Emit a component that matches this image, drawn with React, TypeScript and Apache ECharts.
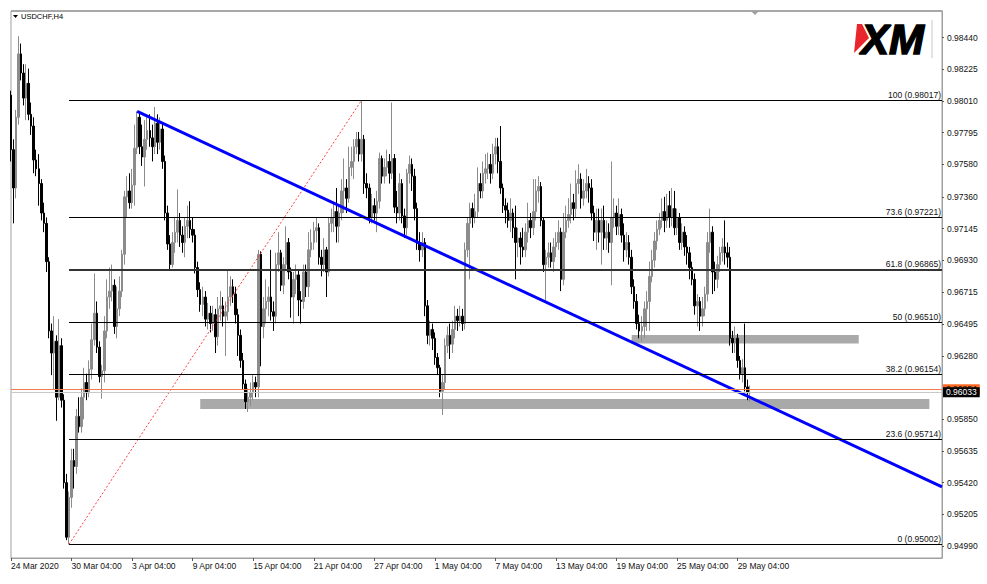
import React, { useEffect, useRef } from "react";
import * as echarts from "echarts";

// ---- candle values (USDCHF, H4) ----
const opens = [
  .9805,.9768,.9742,.9790,.9833,.9820,.9803,.9813,.9792,.9784,
  .9761,.9755,.9745,.9725,.9718,.9692,.9645,.9630,.9638,.9600,
  .9635,.9598,.9542,.9505,.9532,.9557,.9553,.9587,.9580,.9600,
  .9610,.9603,.9619,.9639,.9657,.9634,.9614,.9618,.9645,.9668,
  .9672,.9676,.9648,.9660,.9672,.9697,.9736,.9740,.9732,.9744,
  .9769,.9790,.9770,.9763,.9775,.9781,.9776,.9770,.9786,.9773,
  .9782,.9760,.9725,.9704,.9690,.9705,.9712,.9720,.9710,.9705,
  .9716,.9720,.9714,.9710,.9688,.9673,.9663,.9668,.9653,.9657,
  .9650,.9656,.9641,.9660,.9662,.9655,.9658,.9668,.9675,.9670,
  .9656,.9642,.9625,.9609,.9597,.9600,.9603,.9610,.9607,.9697,
  .9648,.9660,.9665,.9668,.9658,.9655,.9690,.9698,.9676,.9690,
  .9705,.9685,.9668,.9680,.9683,.9666,.9665,.9685,.9675,.9700,
  .9705,.9713,.9715,.9695,.9690,.9700,.9685,.9718,.9722,.9726,
  .9716,.9725,.9740,.9742,.9735,.9756,.9760,.9770,.9775,.9765,
  .9775,.9745,.9742,.9722,.9730,.9725,.9733,.9762,.9750,.9756,
  .9760,.9752,.9762,.9729,.9725,.9745,.9723,.9715,.9752,.9758,
  .9750,.9728,.9705,.9700,.9705,.9662,.9642,.9646,.9640,.9627,
  .9620,.9604,.9610,.9635,.9642,.9636,.9646,.9655,.9652,.9655,
  .9650,.9700,.9718,.9728,.9722,.9726,.9745,.9740,.9752,.9755,
  .9758,.9752,.9765,.9770,.9760,.9742,.9730,.9727,.9720,.9725,
  .9715,.9705,.9708,.9702,.9700,.9712,.9720,.9715,.9726,.9740,
  .9743,.9720,.9690,.9695,.9698,.9692,.9702,.9705,.9712,.9680,
  .9712,.9720,.9724,.9732,.9728,.9745,.9748,.9735,.9740,.9745,
  .9742,.9725,.9712,.9720,.9712,.9720,.9708,.9712,.9705,.9722,
  .9725,.9716,.9724,.9710,.9700,.9705,.9695,.9675,.9665,.9650,
  .9645,.9648,.9660,.9665,.9682,.9693,.9706,.9714,.9720,.9726,
  .9720,.9730,.9722,.9728,.9715,.9722,.9705,.9712,.9702,.9698,
  .9688,.9680,.9662,.9665,.9655,.9660,.9670,.9705,.9712,.9685,
  .9680,.9690,.9698,.9702,.9698,.9695,.9640,.9637,.9640,.9625,
  .9616,.9620,.9607,.9603,
];
const closes = [
  .9768,.9742,.9790,.9833,.9820,.9803,.9813,.9792,.9784,.9761,
  .9755,.9745,.9725,.9718,.9692,.9645,.9630,.9638,.9600,.9635,
  .9598,.9542,.9505,.9532,.9557,.9553,.9587,.9580,.9600,.9610,
  .9603,.9619,.9639,.9657,.9634,.9614,.9618,.9645,.9668,.9672,
  .9676,.9648,.9660,.9672,.9697,.9736,.9740,.9732,.9744,.9769,
  .9790,.9770,.9763,.9775,.9781,.9776,.9770,.9786,.9773,.9782,
  .9760,.9725,.9704,.9690,.9705,.9712,.9720,.9710,.9705,.9716,
  .9720,.9714,.9710,.9688,.9673,.9663,.9668,.9653,.9657,.9650,
  .9656,.9641,.9660,.9662,.9655,.9658,.9668,.9675,.9670,.9656,
  .9642,.9625,.9609,.9597,.9600,.9603,.9610,.9607,.9697,.9648,
  .9660,.9665,.9668,.9658,.9655,.9690,.9698,.9676,.9690,.9705,
  .9685,.9668,.9680,.9683,.9666,.9665,.9685,.9675,.9700,.9705,
  .9713,.9715,.9695,.9690,.9700,.9685,.9718,.9722,.9726,.9716,
  .9725,.9740,.9742,.9735,.9756,.9760,.9770,.9775,.9765,.9775,
  .9745,.9742,.9722,.9730,.9725,.9733,.9762,.9750,.9756,.9760,
  .9752,.9762,.9729,.9725,.9745,.9723,.9715,.9752,.9758,.9750,
  .9728,.9705,.9700,.9705,.9662,.9642,.9646,.9640,.9627,.9620,
  .9604,.9610,.9635,.9642,.9636,.9646,.9655,.9652,.9655,.9650,
  .9700,.9718,.9728,.9722,.9726,.9745,.9740,.9752,.9755,.9758,
  .9752,.9765,.9770,.9760,.9742,.9730,.9727,.9720,.9725,.9715,
  .9705,.9708,.9702,.9700,.9712,.9720,.9715,.9726,.9740,.9743,
  .9720,.9690,.9695,.9698,.9692,.9702,.9705,.9712,.9680,.9712,
  .9720,.9724,.9732,.9728,.9745,.9748,.9735,.9740,.9745,.9742,
  .9725,.9712,.9720,.9712,.9720,.9708,.9712,.9705,.9722,.9725,
  .9716,.9724,.9710,.9700,.9705,.9695,.9675,.9665,.9650,.9645,
  .9648,.9660,.9665,.9682,.9693,.9706,.9714,.9720,.9726,.9720,
  .9730,.9722,.9728,.9715,.9722,.9705,.9712,.9702,.9698,.9688,
  .9680,.9662,.9665,.9655,.9660,.9670,.9705,.9712,.9685,.9680,
  .9690,.9698,.9702,.9698,.9695,.9640,.9637,.9640,.9625,.9616,
  .9620,.9607,.9603,.96033,
];
const lows = [
  .9760,.9718,.9735,.9785,.9815,.9798,.9788,.9788,.9778,.9752,
  .9750,.9730,.9720,.9712,.9685,.9640,.9615,.9605,.9584,.9598,
  .9593,.9538,.9503,.95002,.9525,.9538,.9548,.9576,.9576,.9585,
  .9598,.9600,.9612,.9635,.9630,.9610,.9599,.9610,.9640,.9660,
  .9665,.9643,.9640,.9655,.9668,.9690,.9722,.9728,.9728,.9730,
  .9765,.9765,.9757,.9743,.9768,.9770,.9760,.9765,.9765,.9768,
  .9755,.9720,.9700,.9686,.9688,.9698,.9705,.9702,.9698,.9695,
  .9708,.9708,.9705,.9684,.9668,.9658,.9655,.9648,.9646,.9644,
  .9645,.9630,.9635,.9652,.9648,.9628,.9652,.9662,.9664,.9650,
  .9628,.9620,.9605,.9592,.9590,.9594,.9598,.9600,.9600,.9621,
  .9640,.9650,.9655,.9652,.9645,.9650,.9685,.9672,.9670,.9686,
  .9680,.9654,.9650,.9670,.9655,.9650,.9660,.9668,.9668,.9695,
  .9700,.9705,.9690,.9682,.9685,.9668,.9682,.9712,.9712,.9705,
  .9705,.9720,.9725,.9725,.9732,.9750,.9748,.9765,.9760,.9760,
  .9738,.9735,.9718,.9718,.9720,.9712,.9728,.9745,.9745,.9750,
  .9745,.9748,.9725,.9718,.9720,.9718,.9708,.9710,.9745,.9740,
  .9720,.9700,.9692,.9695,.9655,.9636,.9635,.9632,.9622,.9615,
  .9600,.9588,.9605,.9630,.9626,.9630,.9640,.9645,.9648,.9645,
  .9646,.9695,.9680,.9715,.9718,.9722,.9735,.9735,.9745,.9748,
  .9745,.9748,.9758,.9752,.9738,.9725,.9718,.9715,.9712,.9708,
  .9680,.9695,.9690,.9695,.9695,.9705,.9708,.9710,.9720,.9732,
  .9716,.9685,.9665,.9688,.9688,.9685,.9695,.9700,.9672,.9676,
  .9708,.9715,.9718,.9720,.9722,.9738,.9728,.9730,.9735,.9732,
  .9720,.9706,.9700,.9705,.9690,.9700,.9700,.9698,.9676,.9715,
  .9710,.9710,.9705,.9692,.9695,.9690,.9670,.9660,.9646,.9640,
  .9638,.9640,.9645,.9645,.9678,.9688,.9700,.9710,.9715,.9712,
  .9715,.9715,.9716,.9710,.9710,.9700,.9700,.9696,.9690,.9680,
  .9676,.9656,.9648,.9645,.9648,.9655,.9665,.9698,.9670,.9672,
  .9674,.9685,.9692,.9690,.9688,.9635,.9630,.9630,.9620,.9612,
  .9610,.9604,.9598,.9597,
];
const highs = [
  .9808,.9775,.9795,.9845,.9840,.9826,.9826,.9823,.9800,.9790,
  .9768,.9765,.9748,.9732,.9722,.9695,.9650,.9655,.9642,.9653,
  .9640,.9602,.9548,.9536,.9565,.9565,.9592,.9600,.9606,.9620,
  .9616,.9625,.9650,.9684,.9665,.9638,.9622,.9655,.9680,.9688,
  .9690,.9680,.9675,.9682,.9700,.9740,.9750,.9752,.9755,.9785,
  .9794,.9793,.9785,.9788,.9790,.9792,.9785,.9797,.9792,.9790,
  .9786,.9764,.9730,.9710,.9712,.9722,.9741,.9725,.9716,.9722,
  .9730,.9733,.9722,.9714,.9692,.9678,.9675,.9672,.9664,.9662,
  .9662,.9660,.9668,.9672,.9668,.9665,.9686,.9682,.9680,.9675,
  .9660,.9646,.9630,.9612,.9606,.9610,.9615,.9614,.9700,.9699,
  .9668,.9680,.9675,.9700,.9665,.9698,.9712,.9700,.9695,.9716,
  .9708,.9688,.9685,.9690,.9686,.9672,.9690,.9690,.9712,.9714,
  .9719,.9722,.9718,.9700,.9708,.9702,.9722,.9728,.9733,.9742,
  .9730,.9748,.9762,.9748,.9770,.9770,.9775,.9780,.9780,.98017,
  .9778,.9752,.9745,.9738,.9735,.9740,.9766,.9764,.9762,.9768,
  .9765,.9800,.9765,.9740,.9752,.9748,.9728,.9755,.9764,.9762,
  .9755,.9732,.9712,.9712,.9708,.9666,.9652,.9650,.9644,.9630,
  .9622,.9615,.9640,.9648,.9650,.9652,.9662,.9660,.9662,.9660,
  .9705,.9722,.9732,.9732,.9738,.9756,.9752,.9760,.9765,.9766,
  .9765,.9772,.9776,.9776,.9784,.9745,.9735,.9732,.9735,.9728,
  .9730,.9715,.9712,.9715,.9718,.9732,.9725,.9748,.9748,.9750,
  .9746,.9722,.9700,.9705,.9705,.9708,.9712,.9720,.9715,.9725,
  .9730,.9735,.9745,.9738,.9754,.9758,.9752,.9748,.9755,.9750,
  .9748,.9730,.9728,.9728,.9728,.9730,.9720,.9718,.9760,.9735,
  .9730,.9735,.9728,.9718,.9712,.9710,.9700,.9680,.9670,.9656,
  .9655,.9665,.9672,.9692,.9700,.9712,.9720,.9725,.9735,.9736,
  .9738,.9740,.9742,.9740,.9728,.9725,.9718,.9716,.9710,.9702,
  .9692,.9684,.9670,.9668,.9668,.9675,.9712,.9728,.9716,.9692,
  .9696,.9702,.9708,.9720,.9705,.9702,.9645,.9648,.9643,.9628,
  .9626,.9650,.9612,.9608,
];

// ---- axis ticks ----
const yTicks = [0.9499, 0.95205, 0.9542, 0.95635, 0.9585, 0.9628, 0.96495, 0.96715,
  0.9693, 0.97145, 0.9736, 0.9758, 0.97795, 0.9801, 0.98225, 0.9844];
const xTickLabels = ["24 Mar 2020", "30 Mar 04:00", "3 Apr 04:00", "9 Apr 04:00", "15 Apr 04:00",
  "21 Apr 04:00", "27 Apr 04:00", "1 May 04:00", "7 May 04:00", "13 May 04:00", "19 May 04:00",
  "25 May 04:00", "29 May 04:00"];
const BARS_PER_TICK = 24;
const TOTAL_SLOTS = 370; // visible bar slots incl. empty space on the right

// ---- objects on the chart ----
const fibRatios = ["100", "73.6", "61.8", "50", "38.2", "23.6", "0"];
const fibPrices = [0.98017, 0.97221, 0.96865, 0.9651, 0.96154, 0.95714, 0.95002];
const fibFromIndex = 23;
const fibBase = [{ index: 23, price: 0.95002 }, { index: 139, price: 0.98017 }];
const trendLine = [{ index: 50, price: 0.9794 }, { index: 369, price: 0.95391 }];
const zones = [
  { from: 75, to: 364, top: 0.95988, bottom: 0.9592 },
  { from: 246, to: 336, top: 0.96422, bottom: 0.96365 },
];
const askPrice = 0.96054;
const bidPrice = 0.96033;

const FONT = "'Liberation Sans', Arial, sans-serif";

function buildCategories(n: number): string[] {
  const months = ["Jan", "Feb", "Mar", "Apr", "May", "Jun", "Jul", "Aug"];
  const out: string[] = [];
  let t = Date.UTC(2020, 2, 24);
  let first = true;
  while (out.length < n) {
    const d = new Date(t);
    const wd = d.getUTCDay();
    if (wd !== 0 && wd !== 6) {
      for (let h = 0; h < 24 && out.length < n; h += 4) {
        if (first && h < 4) continue;
        out.push(`${d.getUTCDate()} ${months[d.getUTCMonth()]} ${String(h).padStart(2, "0")}:00`);
      }
      first = false;
    }
    t += 86400000;
  }
  return out;
}

function sparseLine(points: { index: number; price: number }[]) {
  const arr: (number | null)[] = new Array(TOTAL_SLOTS).fill(null);
  points.forEach((p) => (arr[p.index] = p.price));
  return arr;
}

function priceLine(price: number, lineColor: string, boxColor: string, textColor: string) {
  return [
    {
      coord: [0, price],
      lineStyle: { color: lineColor, width: 1, type: "solid" },
      label: {
        show: true, position: "end", formatter: price.toFixed(5), distance: 1,
        backgroundColor: boxColor, color: textColor, padding: [1, 3, 0, 3], fontSize: 8.5, fontFamily: FONT,
      },
    },
    { coord: [TOTAL_SLOTS - 1, price] },
  ];
}

export default function App() {
  const ref = useRef<HTMLDivElement>(null);
  useEffect(() => {
    if (!ref.current) return;
    const chart = echarts.init(ref.current, undefined, { renderer: "svg" });
    const categories = buildCategories(TOTAL_SLOTS);
    const candles = opens.map((o, i) => [o, closes[i], lows[i], highs[i]]);
    const lastTick = (xTickLabels.length - 1) * BARS_PER_TICK;
    const showTick = (i: number) => i % BARS_PER_TICK === 0 && i <= lastTick;

    const option: any = {
      animation: false,
      backgroundColor: "#ffffff",
      textStyle: { fontFamily: FONT },
      title: {
        text: "USDCHF,H4",
        left: 21,
        top: 12,
        padding: 0,
        textStyle: { fontSize: 7.5, fontWeight: "normal", color: "#000", fontFamily: FONT },
      },
      grid: {
        left: 11, right: 45, top: 11, bottom: 26,
        show: true, borderColor: "#a0a0a0", borderWidth: 1,
      },
      xAxis: {
        type: "category",
        data: categories,
        boundaryGap: false,
        axisLine: { show: true, lineStyle: { color: "#a0a0a0", width: 1 } },
        axisTick: { show: true, interval: showTick, length: 3, lineStyle: { color: "#555" } },
        axisLabel: {
          interval: showTick,
          formatter: (_v: string, i: number) => xTickLabels[i / BARS_PER_TICK] ?? "",
          align: "left",
          fontSize: 8.5,
          color: "#111",
          margin: 3,
          fontFamily: FONT,
        },
        splitLine: { show: false },
      },
      yAxis: {
        type: "value",
        position: "right",
        min: 0.94909,
        max: 0.98621,
        axisLine: { show: true, lineStyle: { color: "#a0a0a0", width: 1 } },
        axisTick: { show: true, customValues: yTicks, length: 2, lineStyle: { color: "#555" } },
        axisLabel: {
          customValues: yTicks,
          formatter: (v: number) => v.toFixed(5),
          fontSize: 8.5,
          color: "#111",
          margin: 5,
          fontFamily: FONT,
        },
        splitLine: { show: false },
      },
      graphic: [
        { type: "line", shape: { x1: 11, y1: 11, x2: 942, y2: 11 }, style: { stroke: "#a8a8a8", lineWidth: 2 } },
        { type: "polygon", shape: { points: [[13, 15], [18, 15], [15.5, 18]] }, style: { fill: "#000" } },
        { type: "polygon", shape: { points: [[751, 11], [759, 11], [755, 15]] }, style: { fill: "#a0a0a0" } },
        { type: "polygon", shape: { points: [[857, 24], [862, 24], [869, 38], [854, 53]] }, style: { fill: "#e8262b" } },
        {
          type: "text", x: 861, y: 39,
          style: {
            text: "XM", fill: "#000", stroke: "#000", lineWidth: 1.5, fontSize: 42, fontWeight: "bold", fontStyle: "italic",
            fontFamily: FONT, verticalAlign: "middle", align: "left",
          },
        },
        { type: "line", shape: { x1: 932, y1: 20, x2: 932, y2: 58 }, style: { stroke: "#c8c8c8", lineWidth: 1 } },
      ],
      series: [
        {
          name: "zones", type: "line", data: [], z: 1, silent: true,
          markArea: {
            silent: true,
            itemStyle: { color: "#a9a9a9" },
            data: zones.map((zn) => [{ coord: [zn.from, zn.top] }, { coord: [zn.to, zn.bottom] }]),
          },
        },
        {
          name: "USDCHF", type: "candlestick", z: 2, data: candles, barWidth: 2,
          itemStyle: { color: "#8c8c8c", color0: "#000000", borderColor: "#8c8c8c", borderColor0: "#000000", borderWidth: 1 },
        },
        {
          name: "fibo", type: "line", data: [], z: 3, silent: true,
          markLine: {
            silent: true, symbol: ["none", "none"],
            data: fibPrices.map((p, k) => [
              {
                coord: [fibFromIndex, p],
                lineStyle: { color: k === 2 ? "#333" : "#000", width: k === 2 ? 2 : 1.2, type: "solid" },
                label: {
                  show: true, position: "insideEndTop", formatter: `${fibRatios[k]} (${p.toFixed(5)})`,
                  fontSize: 8.5, color: "#111", distance: [1, 1], fontFamily: FONT,
                },
              },
              { coord: [TOTAL_SLOTS - 1, p] },
            ]),
          },
        },
        {
          name: "fiboBase", type: "line", z: 3, data: sparseLine(fibBase), connectNulls: true,
          symbol: "none", silent: true, lineStyle: { color: "#ff3b3b", width: 1, type: [2, 2] },
        },
        {
          name: "trend", type: "line", z: 4, data: sparseLine(trendLine), connectNulls: true,
          symbol: "none", silent: true, lineStyle: { color: "#0000ff", width: 3 },
        },
        {
          name: "prices", type: "line", data: [], z: 5, silent: true,
          markLine: {
            silent: true, symbol: ["none", "none"],
            data: [
              priceLine(askPrice, "#f47a4a", "#ff6a22", "#222"),
              priceLine(bidPrice, "#c8c8c8", "#000000", "#ffffff"),
            ],
          },
        },
      ],
    };
    chart.setOption(option);
    return () => chart.dispose();
  }, []);
  return (
    <div
      ref={ref}
      style={{ position: "fixed", left: 0, top: 0, width: 987, height: 584, background: "#fff" }}
    />
  );
}
